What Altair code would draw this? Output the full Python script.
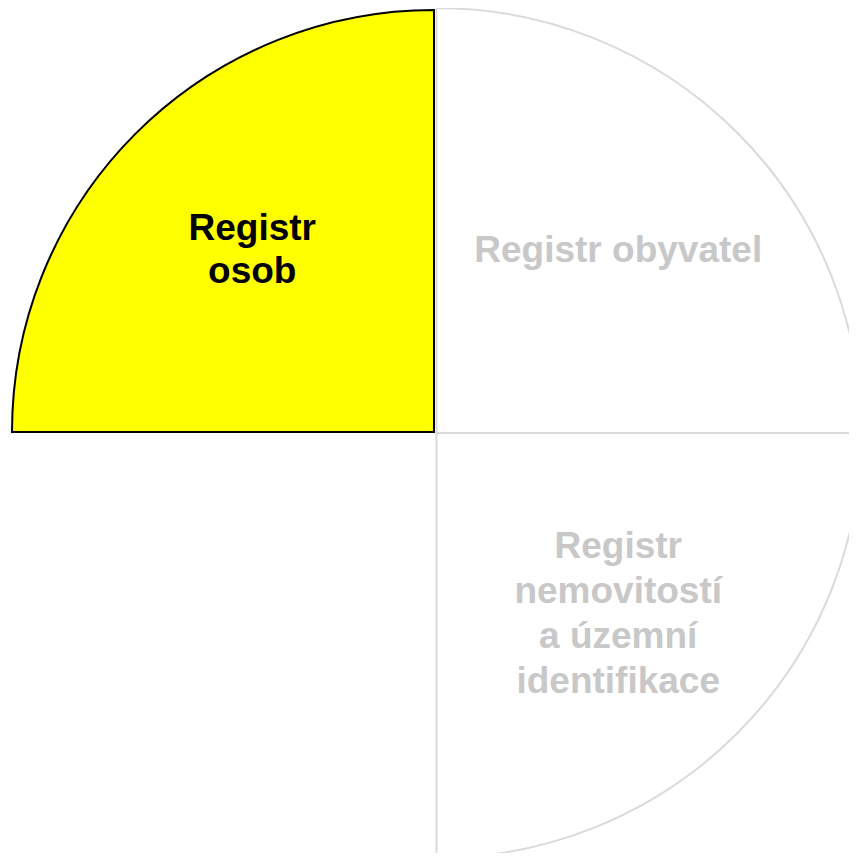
import altair as alt
import pandas as pd

keys = ["obyvatel", "nemovitosti", "prazdny", "osob"]
labels = ["Registr obyvatel", "Registr\nnemovitostí\na územní\nidentifikace", "", "Registr\nosob"]
values = [1, 1, 1, 1]
order = [1, 2, 3, 4]

fill_range = ["#ffffff", "#ffffff", "#ffffff", "#ffff00"]
stroke_range = ["#dadada", "#dadada", "transparent", "#000000"]
text_range = ["#c8c8c8", "#c8c8c8", "#c8c8c8", "#000000"]

df = pd.DataFrame({"key": keys, "label": labels, "value": values, "ord": order})
total = sum(values)

theta_scale = alt.Scale(domain=[0, total])
fill_scale = alt.Scale(domain=keys, range=fill_range)
stroke_scale = alt.Scale(domain=keys, range=stroke_range)
text_scale = alt.Scale(domain=keys, range=text_range)

base = (
    alt.Chart(df)
    .transform_stack(stack="value", groupby=[], as_=["start", "end"],
                     sort=[alt.SortField("ord", order="ascending")])
    .transform_calculate(mid="(datum.start + datum.end) / 2")
)

cx1, cy1, r1 = 426, 424, 422
cx2, cy2, r2 = 428.5, 425, 425


def arcs(filter_expr, cx, cy, r):
    return base.transform_filter(filter_expr).mark_arc(
        strokeWidth=2, strokeJoin="miter"
    ).encode(
        theta=alt.Theta("start:Q", scale=theta_scale),
        theta2="end:Q",
        radius=alt.value(r),
        x=alt.value(cx),
        y=alt.value(cy),
        fill=alt.Fill("key:N", scale=fill_scale, legend=None),
        stroke=alt.Stroke("key:N", scale=stroke_scale, legend=None),
    )


def label(key, cx, cy, line_h, n_lines):
    return base.transform_filter(f"datum.key == '{key}'").mark_text(
        font="Liberation Sans", fontWeight="bold", fontSize=37, lineBreak="\n",
        lineHeight=line_h, align="center", baseline="middle",
        dy=-(n_lines - 1) * line_h / 2,
    ).encode(
        theta=alt.Theta("mid:Q", scale=theta_scale),
        radius=alt.value(257),
        x=alt.value(cx),
        y=alt.value(cy),
        text="label:N",
        color=alt.Color("key:N", scale=text_scale, legend=None),
    )


grey = arcs("datum.key == 'obyvatel' || datum.key == 'nemovitosti'", cx2, cy2, r2)
main = arcs("datum.key == 'prazdny' || datum.key == 'osob'", cx1, cy1, r1)

t1 = label("obyvatel", cx2, cy2, 45, 1)
t2 = label("nemovitosti", cx2, cy2, 45, 4)
t3 = label("osob", cx1, cy1, 43, 2)

chart = alt.layer(grey, main, t1, t2, t3).properties(
    width=841, height=845, padding=0, autosize="none"
).configure_view(stroke=None)

chart.save("out.html", embed_options={"renderer": "svg", "actions": False})
